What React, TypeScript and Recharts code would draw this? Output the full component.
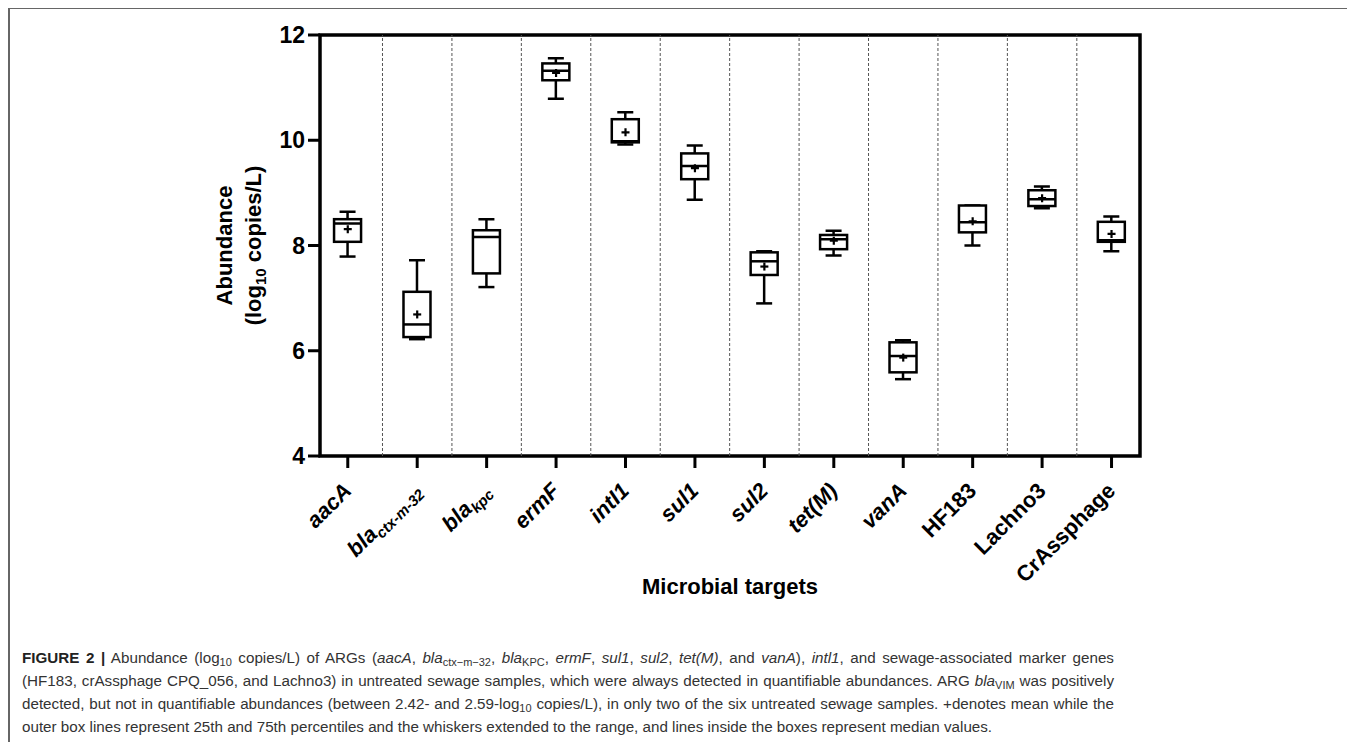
import {
  ComposedChart,
  Bar,
  Scatter,
  XAxis,
  YAxis,
  ReferenceArea,
  ReferenceLine,
} from 'recharts';

const FONT = '"Liberation Sans", Arial, sans-serif';

// tick labels: main text, subscript, italic (gene names)
const TICK_MAIN = ['aacA', 'bla', 'bla', 'ermF', 'intI1', 'sul1', 'sul2', 'tet(M)', 'vanA', 'HF183', 'Lachno3', 'CrAssphage'];
const TICK_SUB = ['', 'ctx-m-32', 'kpc', '', '', '', '', '', '', '', '', ''];
const TICK_ITALIC = [true, true, true, true, true, true, true, true, true, false, false, false];

// log10 copies/L
const MIN = [7.79, 6.22, 7.21, 10.79, 9.92, 8.87, 6.9, 7.81, 5.46, 8.0, 8.71, 7.89];
const Q1 = [8.07, 6.26, 7.47, 11.14, 9.96, 9.26, 7.44, 7.93, 5.59, 8.25, 8.75, 8.07];
const MEDIAN = [8.42, 6.5, 8.16, 11.32, 9.98, 9.51, 7.7, 8.12, 5.9, 8.44, 8.88, 8.1];
const Q3 = [8.5, 7.12, 8.29, 11.46, 10.4, 9.75, 7.87, 8.2, 6.16, 8.76, 9.05, 8.45];
const MAX = [8.64, 7.72, 8.5, 11.56, 10.53, 9.9, 7.89, 8.28, 6.2, 8.76, 9.12, 8.55];
const MEAN: (number | null)[] = [8.31, 6.69, null, 11.28, 10.15, 9.47, 7.6, 8.09, 5.87, 8.46, 8.9, 8.22];

const Y_TICKS = [4, 6, 8, 10, 12];

const rows = TICK_MAIN.map((name, i) => ({
  x: i + 1,
  name,
  whisker: [MIN[i], MAX[i]],
  box: [Q1[i], Q3[i]],
  median: MEDIAN[i],
  mean: MEAN[i],
}));
const meanRows = rows.filter((r) => r.mean !== null);
const separators = rows.slice(1).map((r) => r.x - 0.5);

const BOX_W = 27;

function Whisker(props: any) {
  const { x, y, width, height } = props;
  const cx = x + width / 2;
  const top = Math.min(y, y + height);
  const bot = Math.max(y, y + height);
  return (
    <g stroke="#000" strokeWidth={2.5}>
      <line x1={cx} x2={cx} y1={top} y2={bot} />
      <line x1={cx - 8} x2={cx + 8} y1={top} y2={top} />
      <line x1={cx - 8} x2={cx + 8} y1={bot} y2={bot} />
    </g>
  );
}

function Box(props: any) {
  const { x, y, width, height } = props;
  const top = Math.min(y, y + height);
  return <rect x={x} y={top} width={width} height={Math.abs(height)} fill="#fff" stroke="#000" strokeWidth={2.5} />;
}

function MedianMark(props: any) {
  const { cx, cy } = props;
  return <line x1={cx - BOX_W / 2} x2={cx + BOX_W / 2} y1={cy} y2={cy} stroke="#000" strokeWidth={2.5} />;
}

function MeanMark(props: any) {
  const { cx, cy } = props;
  return (
    <g stroke="#000" strokeWidth={2.2}>
      <line x1={cx - 4} x2={cx + 4} y1={cy} y2={cy} />
      <line x1={cx} x2={cx} y1={cy - 4} y2={cy + 4} />
    </g>
  );
}

function XTick(props: any) {
  const { x, y, payload } = props;
  const i = payload.value - 1;
  if (i < 0 || i >= TICK_MAIN.length) return null;
  return (
    <g transform={`translate(${x + 5},${y + 22})`}>
      <text
        transform="rotate(-45)"
        textAnchor="end"
        fontFamily={FONT}
        fontSize={22}
        fontWeight="bold"
        fontStyle={TICK_ITALIC[i] ? 'italic' : 'normal'}
        fill="#000"
      >
        <tspan>{TICK_MAIN[i]}</tspan>
        {TICK_SUB[i] ? (
          <tspan fontSize={15} dy={5}>
            {TICK_SUB[i]}
          </tspan>
        ) : null}
      </text>
    </g>
  );
}

function YTitle(props: any) {
  const { viewBox } = props;
  const cy = viewBox.y + viewBox.height / 2;
  return (
    <text
      transform={`translate(224,${cy}) rotate(-90)`}
      textAnchor="middle"
      fontFamily={FONT}
      fontSize={22}
      fontWeight="bold"
      fill="#000"
    >
      <tspan x={0} dy={0}>Abundance</tspan>
      <tspan x={0} dy={29}>(log</tspan>
      <tspan fontSize={15} dy={5}>10</tspan>
      <tspan dy={-5}> copies/L)</tspan>
    </text>
  );
}

function XTitle(props: any) {
  const { viewBox } = props;
  return (
    <text
      x={viewBox.x + viewBox.width / 2}
      y={viewBox.y + 138}
      textAnchor="middle"
      fontFamily={FONT}
      fontSize={22}
      fontWeight="bold"
      fill="#000"
    >
      Microbial targets
    </text>
  );
}

const subStyle = { fontSize: 11, verticalAlign: '-3px', lineHeight: 0 } as const;
const justLine = { textAlign: 'justify', textAlignLast: 'justify', whiteSpace: 'nowrap' } as const;

export default function App() {
  return (
    <div style={{ position: 'relative', width: 1347, height: 734, background: '#fff' }}>
      <div style={{ position: 'absolute', left: 0, top: 0 }}>
        <ComposedChart
          width={1200}
          height={610}
          data={rows}
          margin={{ top: 27, right: 68, bottom: 0, left: 252 }}
          barGap={-BOX_W}
        >
          {separators.map((s) => (
            <ReferenceLine key={s} x={s} stroke="#555" strokeWidth={1} strokeDasharray="3 2" />
          ))}
          <XAxis
            dataKey="x"
            type="number"
            domain={[0.6, 12.41]}
            allowDataOverflow
            ticks={rows.map((r) => r.x)}
            interval={0}
            axisLine={false}
            tickLine={{ stroke: '#000', strokeWidth: 3 }}
            tickSize={12}
            tick={<XTick />}
            height={162}
            label={{ content: <XTitle /> }}
          />
          <YAxis
            type="number"
            domain={[4, 12]}
            ticks={Y_TICKS}
            width={60}
            axisLine={false}
            tickLine={{ stroke: '#000', strokeWidth: 3 }}
            tickSize={12}
            tickMargin={3}
            tick={{ fontFamily: FONT, fontSize: 23, fontWeight: 'bold', fill: '#000' }}
            label={{ content: <YTitle /> }}
          />
          <Bar dataKey="whisker" barSize={BOX_W} shape={<Whisker />} isAnimationActive={false} />
          <Bar dataKey="box" barSize={BOX_W} shape={<Box />} isAnimationActive={false} />
          <Scatter dataKey="median" shape={<MedianMark />} isAnimationActive={false} />
          <Scatter data={meanRows} dataKey="mean" shape={<MeanMark />} isAnimationActive={false} />
          <ReferenceArea x1={0.6} x2={12.41} y1={4} y2={12} fill="none" fillOpacity={0} stroke="#000" strokeWidth={3.5} />
        </ComposedChart>
      </div>
      <div
        style={{
          position: 'absolute',
          left: 14,
          top: 638,
          width: 1092,
          fontFamily: FONT,
          fontSize: 15.2,
          lineHeight: '23px',
          color: '#333',
        }}
      >
        <div style={justLine}>
          <b style={{ color: '#222' }}>FIGURE 2 |</b> Abundance (log<sub style={subStyle}>10</sub> copies/L) of ARGs (
          <i>aacA</i>, <i>bla</i>
          <sub style={subStyle}>ctx−m−32</sub>, <i>bla</i>
          <sub style={subStyle}>KPC</sub>, <i>ermF</i>, <i>sul1</i>, <i>sul2</i>, <i>tet(M)</i>, and <i>vanA</i>),{' '}
          <i>intl1</i>, and sewage-associated marker genes
        </div>
        <div style={justLine}>
          (HF183, crAssphage CPQ_056, and Lachno3) in untreated sewage samples, which were always detected in
          quantifiable abundances. ARG <i>bla</i>
          <sub style={subStyle}>VIM</sub> was positively
        </div>
        <div style={justLine}>
          detected, but not in quantifiable abundances (between 2.42- and 2.59-log<sub style={subStyle}>10</sub>{' '}
          copies/L), in only two of the six untreated sewage samples. +denotes mean while the
        </div>
        <div style={{ whiteSpace: 'nowrap' }}>
          outer box lines represent 25th and 75th percentiles and the whiskers extended to the range, and lines inside
          the boxes represent median values.
        </div>
      </div>
      <div style={{ position: 'absolute', left: 0, top: -1, width: 1347, height: 2, background: '#666', zIndex: 5 }} />
      <div style={{ position: 'absolute', left: 0, top: -1, width: 1.5, height: 735, background: '#666', zIndex: 5 }} />
    </div>
  );
}
